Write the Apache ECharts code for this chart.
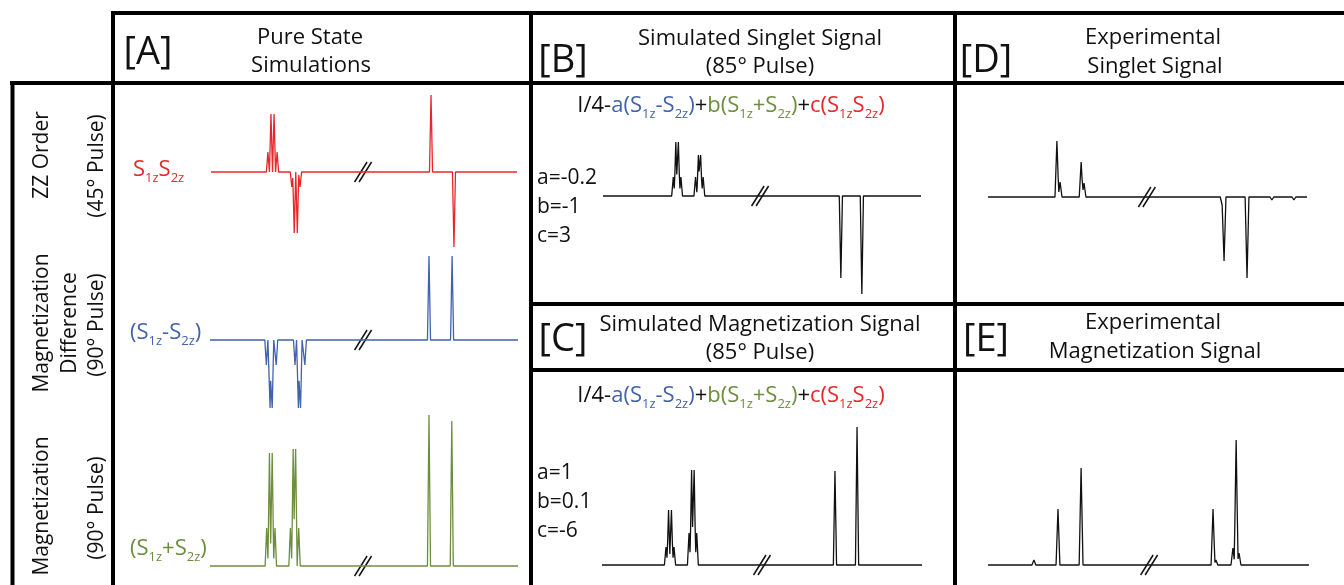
<!DOCTYPE html>
<html>
<head>
<meta charset="utf-8">
<script src="https://cdn.jsdelivr.net/npm/echarts@6/dist/echarts.min.js"></script>
<style>
  html, body { margin: 0; background: #fff; }
  #chart { width: 1344px; height: 585px; }
</style>
</head>
<body>
<div id="chart"></div>
<script>
// peak lists: [position along the trace (0-100), intensity]
const zzPeaks = [[18.6, 20], [19.6, 58], [20.6, 58], [21.6, 20], [26.4, -15], [27.2, -61], [28.2, -61], [29.1, -15], [71.9, 77], [79.4, -75]]
const diffPeaks = [[18.3, -25], [19.5, -68], [20.2, -68], [21.5, -25], [27.6, -25], [28.7, -68], [29.4, -68], [30.8, -25], [71.1, 84], [78.6, 84]]
const sumPeaks = [[18.4, 38], [19.3, 113], [20.2, 113], [21.1, 38], [26.1, 38], [27.0, 117], [27.8, 117], [28.8, 38], [71.1, 151], [78.5, 145]]
const singletSimPeaks = [[22.1, 19], [22.9, 54], [23.7, 54], [24.5, 19], [29.1, 19], [30.0, 41], [30.7, 41], [31.5, 19], [74.8, -82], [81.4, -98]]
const magSimPeaks = [[20.0, 18], [20.8, 55], [21.7, 55], [22.5, 18], [27.2, 32], [28.0, 95], [28.8, 95], [29.6, 32], [72.8, 94], [79.7, 138]]
const singletExpPeaks = [[21.6, 56], [22.6, 15], [29.2, 35], [30.1, 14], [73.4, -8], [74.0, -64], [81.2, -81], [89.0, -3], [95.9, -3]]
const magExpPeaks = [[7.5, 2], [14.3, 5], [21.8, 56], [29.0, 97], [71.0, 5], [70.1, 56], [76.3, 17], [77.3, 125], [78.2, 12]]

// where the axis break (//) sits on each trace
const breakA = 49.7
const breakB = 49.4
const breakC = 50
const breakD = 49.8
const breakE = 50.2

const RED = '#e8272b'
const BLUE = '#4262ad'
const GREEN = '#6d8e3e'
const INK = '#111'
const FONT = '"Open Sans", "Noto Sans", sans-serif'

// sum of narrow triangular lines, evaluated at every break point
function trace(peaks, hw) {
  const xs = [0, 100]
  peaks.forEach(p => { xs.push(p[0] - hw, p[0], p[0] + hw) })
  xs.sort((a, b) => a - b)
  return xs.map(x => {
    let y = 0
    peaks.forEach(p => {
      const d = Math.abs(x - p[0])
      if (d < hw) y += p[1] * (1 - d / hw)
    })
    return [x, y]
  })
}

// panels: grid box in px, y range chosen so 1 unit = 1 px
const panels = [
  { peaks: zzPeaks, color: RED, left: 211, width: 306, top: 90, max: 82, min: -80, brk: breakA, hw: 0.5 },
  { peaks: diffPeaks, color: BLUE, left: 210, width: 308, top: 250, max: 90, min: -70, brk: breakA, hw: 0.5 },
  { peaks: sumPeaks, color: GREEN, left: 210, width: 308, top: 410, max: 156, min: -14, brk: breakA, hw: 0.5 },
  { peaks: singletSimPeaks, color: INK, left: 603, width: 318, top: 130, max: 66, min: -102, brk: breakB, hw: 0.5 },
  { peaks: magSimPeaks, color: INK, left: 602, width: 320, top: 420, max: 145, min: -15, brk: breakC, hw: 0.5 },
  { peaks: singletExpPeaks, color: INK, left: 988, width: 319, top: 130, max: 67, min: -93, brk: breakD, hw: 0.6 },
  { peaks: magExpPeaks, color: INK, left: 988, width: 321, top: 430, max: 135, min: -15, brk: breakE, hw: 0.6 }
]

const grids = []
const xAxes = []
const yAxes = []
const series = []
panels.forEach((p, i) => {
  grids.push({ left: p.left, top: p.top, width: p.width, height: p.max - p.min })
  xAxes.push({ type: 'value', gridIndex: i, min: 0, max: 100, show: false })
  yAxes.push({ type: 'value', gridIndex: i, min: p.min, max: p.max, show: false })
  series.push({
    type: 'line', xAxisIndex: i, yAxisIndex: i, data: trace(p.peaks, p.hw),
    showSymbol: false, lineStyle: { color: p.color, width: 1.3 }, silent: true
  })
  series.push({
    type: 'custom', xAxisIndex: i, yAxisIndex: i, data: [[p.brk, 0]], silent: true,
    renderItem: (params, api) => {
      const c = api.coord([api.value(0), api.value(1)])
      const st = { stroke: INK, lineWidth: 1.5 }
      return {
        type: 'group', children: [
          { type: 'line', shape: { x1: c[0] - 8.5, y1: c[1] + 10, x2: c[0] + 4, y2: c[1] - 10 }, style: st },
          { type: 'line', shape: { x1: c[0] - 4, y1: c[1] + 10, x2: c[0] + 8.5, y2: c[1] - 10 }, style: st }
        ]
      }
    }
  })
})

// frame
const frame = [
  [111, 13, 1344, 13], [10, 83, 1344, 83],
  [12.5, 81, 12.5, 585], [113, 11, 113, 585], [531, 11, 531, 585], [955, 11, 955, 585],
  [531, 304, 1344, 304], [531, 370, 1344, 370]
]
const graphics = frame.map(l => ({
  type: 'line', shape: { x1: l[0], y1: l[1], x2: l[2], y2: l[3] },
  style: { stroke: '#000', lineWidth: 4 }, silent: true
}))

function txt(x, y, s, size, opts, align) {
  graphics.push(Object.assign({
    type: 'text', x: x, y: y,
    style: { text: s, fill: '#111', font: size + 'px ' + FONT, align: align || 'center', verticalAlign: 'middle' }
  }, opts || {}))
}
// panel letters
txt(148, 53, '[A]', 38)
txt(563, 61, '[B]', 38)
txt(986, 61, '[D]', 38)
txt(563, 340, '[C]', 38)
txt(986, 340, '[E]', 38)
// headers
txt(310, 38, 'Pure State', 22)
txt(311, 66, 'Simulations', 22)
txt(760, 39, 'Simulated Singlet Signal', 22)
txt(760, 67, '(85° Pulse)', 22)
txt(1153, 38, 'Experimental', 22)
txt(1155, 67, 'Singlet Signal', 22)
txt(760, 325, 'Simulated Magnetization Signal', 22)
txt(760, 353, '(85° Pulse)', 22)
txt(1153, 323, 'Experimental', 22)
txt(1155, 352, 'Magnetization Signal', 22)
// row labels, rotated
const rot = { rotation: Math.PI / 2 }
txt(42, 155, 'ZZ Order', 21, rot)
txt(97, 166, '(45° Pulse)', 21, rot)
txt(42, 323, 'Magnetization', 21, rot)
txt(70, 323, 'Difference', 21, rot)
txt(97, 325, '(90° Pulse)', 21, rot)
txt(42, 506, 'Magnetization', 21, rot)
txt(97, 508, '(90° Pulse)', 21, rot)
// coefficients
const coefB = ['a=-0.2', 'b=-1', 'c=3']
const coefC = ['a=1', 'b=0.1', 'c=-6']
coefB.forEach((s, i) => txt(537, 178 + i * 29, s, 21, null, 'left'))
coefC.forEach((s, i) => txt(537, 473 + i * 29, s, 21, null, 'left'))

// rich text with subscripts
function richStyles() {
  const r = {}
  const cols = { k: INK, b: BLUE, g: GREEN, r: RED }
  Object.keys(cols).forEach(k => {
    r[k] = { color: cols[k], fontSize: 22, fontWeight: 'normal', fontFamily: FONT, lineHeight: 30, verticalAlign: 'middle' }
    r[k + 's'] = { color: cols[k], fontSize: 13, fontWeight: 'normal', fontFamily: FONT, lineHeight: 12, verticalAlign: 'bottom' }
  })
  return r
}
const formula = '{k|I/4-}{b|a(S}{bs|1z}{b|-S}{bs|2z}{b|)}{k|+}{g|b(S}{gs|1z}{g|+S}{gs|2z}{g|)}{k|+}{r|c(S}{rs|1z}{r|S}{rs|2z}{r|)}'
const titles = [
  { text: formula, left: 731, top: 91, textAlign: 'center' },
  { text: formula, left: 731, top: 381, textAlign: 'center' },
  { text: '{r|S}{rs|1z}{r|S}{rs|2z}', left: 133, top: 155 },
  { text: '{b|(S}{bs|1z}{b|-S}{bs|2z}{b|)}', left: 130, top: 318 },
  { text: '{g|(S}{gs|1z}{g|+S}{gs|2z}{g|)}', left: 130, top: 534 }
].map(t => Object.assign(t, { padding: 0, textStyle: { rich: richStyles() } }))

const chart = echarts.init(document.getElementById('chart'))
chart.setOption({
  animation: false,
  backgroundColor: '#fff',
  title: titles,
  grid: grids,
  xAxis: xAxes,
  yAxis: yAxes,
  series: series,
  graphic: graphics
})
</script>
</body>
</html>
